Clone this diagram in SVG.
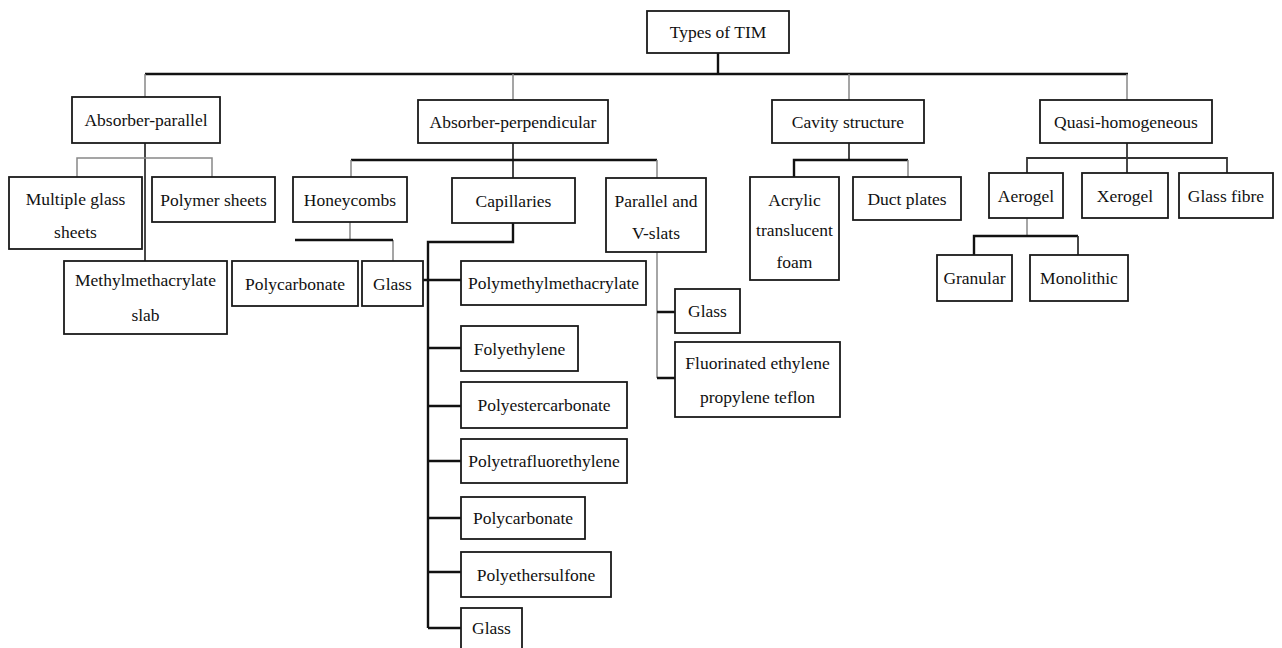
<svg xmlns="http://www.w3.org/2000/svg" width="1282" height="648" viewBox="0 0 1282 648">
<style>
  .box { fill: #ffffff; stroke: #1a1a1a; stroke-width: 1.8; }
  .t { font-family: "Liberation Serif", "Times New Roman", serif; font-size: 17.5px; fill: #111; text-anchor: middle; }
  .dk { stroke: #111; stroke-width: 2.4; fill: none; }
  .md { stroke: #333; stroke-width: 1.8; fill: none; }
  .lt { stroke: #888; stroke-width: 1.5; fill: none; }
</style>
<rect width="1282" height="648" fill="#ffffff"/>
<g id="connectors">
  <path class="dk" d="M718 53 V74 M145 74 H1128"/>
  <path class="lt" d="M145 74 V97 M513 74 V100 M849 74 V100 M1127 74 V100"/>
  <path class="md" d="M145 143 V261"/>
  <path class="lt" d="M77 177 V158 H212 V177"/>
  <path class="md" d="M513 143 V178"/>
  <path class="dk" d="M351 160 H657"/>
  <path class="lt" d="M351 160 V177 M657 160 V178"/>
  <path class="lt" d="M350 222 V240 M393 240 V261"/>
  <path class="dk" d="M295 240 H393"/>
  <path class="dk" d="M513 223 V242 H428 V628"/>
  <path class="dk" d="M423 280 H461 M428 348 H461 M428 406 H461 M428 461 H461 M428 518 H461 M428 572 H461 M428 628 H461"/>
  <path class="lt" d="M657 252 V378"/>
  <path class="dk" d="M657 312 H675 M657 378 H675"/>
  <path class="md" d="M849 143 V160"/>
  <path class="dk" d="M794 177 V160 H908"/>
  <path class="lt" d="M908 160 V177"/>
  <path class="md" d="M1127 143 V173"/>
  <path class="md" d="M1027 173 V158 H1227 V173"/>
  <path class="lt" d="M1027 218 V236"/>
  <path class="dk" d="M974 255 V236 H1078"/>
  <path class="md" d="M1078 236 V255"/>
</g>
<g id="n-root"><rect class="box" x="647" y="11" width="142" height="42"/><text class="t" x="718" y="38">Types of TIM</text></g>
<g id="n-absorber-parallel"><rect class="box" x="72" y="97" width="148" height="46"/><text class="t" x="146" y="126">Absorber-parallel</text></g>
<g id="n-absorber-perpendicular"><rect class="box" x="418" y="100" width="190" height="43"/><text class="t" x="513" y="127.5">Absorber-perpendicular</text></g>
<g id="n-cavity"><rect class="box" x="772" y="100" width="152" height="43"/><text class="t" x="848" y="127.5">Cavity structure</text></g>
<g id="n-quasi"><rect class="box" x="1040" y="100" width="172" height="43"/><text class="t" x="1126" y="127.5">Quasi-homogeneous</text></g>
<g id="n-multiple-glass"><rect class="box" x="9" y="177" width="133" height="72"/><text class="t" x="75.5" y="205">Multiple glass</text><text class="t" x="75.5" y="238">sheets</text></g>
<g id="n-polymer-sheets"><rect class="box" x="152" y="177" width="123" height="45"/><text class="t" x="213.5" y="205.5">Polymer sheets</text></g>
<g id="n-mma-slab"><rect class="box" x="64" y="261" width="163" height="73"/><text class="t" x="145.5" y="286">Methylmethacrylate</text><text class="t" x="145.5" y="321">slab</text></g>
<g id="n-honeycombs"><rect class="box" x="293" y="177" width="114" height="45"/><text class="t" x="350" y="205.5">Honeycombs</text></g>
<g id="n-capillaries"><rect class="box" x="452" y="178" width="123" height="45"/><text class="t" x="513.5" y="206.5">Capillaries</text></g>
<g id="n-parallel-vslats"><rect class="box" x="606" y="178" width="100" height="74"/><text class="t" x="656" y="207">Parallel and</text><text class="t" x="656" y="239">V-slats</text></g>
<g id="n-hc-polycarbonate"><rect class="box" x="232" y="261" width="126" height="45"/><text class="t" x="295" y="289.5">Polycarbonate</text></g>
<g id="n-hc-glass"><rect class="box" x="362" y="261" width="61" height="45"/><text class="t" x="392.5" y="289.5">Glass</text></g>
<g id="n-cap-pmma"><rect class="box" x="461" y="261" width="185" height="44"/><text class="t" x="553.5" y="289">Polymethylmethacrylate</text></g>
<g id="n-cap-pe"><rect class="box" x="461" y="326" width="117" height="45"/><text class="t" x="519.5" y="354.5">Folyethylene</text></g>
<g id="n-cap-pec"><rect class="box" x="461" y="382" width="166" height="46"/><text class="t" x="544" y="411">Polyestercarbonate</text></g>
<g id="n-cap-ptfe"><rect class="box" x="461" y="439" width="166" height="44"/><text class="t" x="544" y="467">Polyetrafluorethylene</text></g>
<g id="n-cap-pc"><rect class="box" x="461" y="497" width="124" height="42"/><text class="t" x="523" y="524">Polycarbonate</text></g>
<g id="n-cap-pes"><rect class="box" x="461" y="552" width="150" height="45"/><text class="t" x="536" y="580.5">Polyethersulfone</text></g>
<g id="n-cap-glass"><rect class="box" x="461" y="608" width="61" height="46"/><text class="t" x="491.5" y="634">Glass</text></g>
<g id="n-pv-glass"><rect class="box" x="675" y="289" width="65" height="44"/><text class="t" x="707.5" y="317">Glass</text></g>
<g id="n-pv-fep"><rect class="box" x="675" y="342" width="165" height="75"/><text class="t" x="757.5" y="369">Fluorinated ethylene</text><text class="t" x="757.5" y="403">propylene teflon</text></g>
<g id="n-acrylic"><rect class="box" x="750" y="177" width="89" height="103"/><text class="t" x="794.5" y="206">Acrylic</text><text class="t" x="794.5" y="236">translucent</text><text class="t" x="794.5" y="268">foam</text></g>
<g id="n-duct"><rect class="box" x="853" y="177" width="108" height="43"/><text class="t" x="907" y="204.5">Duct plates</text></g>
<g id="n-aerogel"><rect class="box" x="989" y="173" width="74" height="45"/><text class="t" x="1026" y="201.5">Aerogel</text></g>
<g id="n-xerogel"><rect class="box" x="1082" y="173" width="86" height="45"/><text class="t" x="1125" y="201.5">Xerogel</text></g>
<g id="n-glass-fibre"><rect class="box" x="1179" y="173" width="94" height="45"/><text class="t" x="1226" y="201.5">Glass fibre</text></g>
<g id="n-granular"><rect class="box" x="937" y="255" width="75" height="46"/><text class="t" x="974.5" y="284">Granular</text></g>
<g id="n-monolithic"><rect class="box" x="1030" y="255" width="98" height="46"/><text class="t" x="1079" y="284">Monolithic</text></g>
</svg>
